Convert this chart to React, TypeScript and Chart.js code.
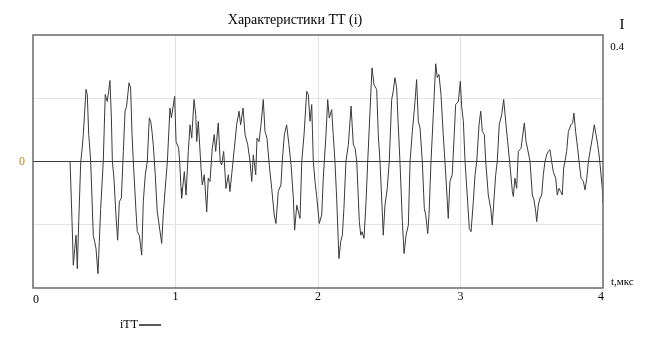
import React, { useEffect, useRef } from 'react';
import { Chart, registerables } from 'chart.js';

Chart.register(...registerables);

// time, microseconds
const timeUs: number[] = [
  0.260, 0.274, 0.283, 0.293, 0.302, 0.311, 0.321, 0.335, 0.344, 0.353, 0.372, 0.381, 0.391, 0.395, 0.405, 0.423, 0.433, 0.442, 0.456, 0.475,
  0.493, 0.507, 0.521, 0.531, 0.540, 0.550, 0.557, 0.568, 0.582, 0.594, 0.606, 0.620, 0.634, 0.646, 0.657, 0.674, 0.685, 0.695, 0.704, 0.723,
  0.732, 0.746, 0.763, 0.774, 0.788, 0.802, 0.816, 0.826, 0.835, 0.844, 0.858, 0.872, 0.882, 0.903, 0.914, 0.926, 0.943, 0.961, 0.971, 0.994,
  1.004, 1.022,
  1.029, 1.039, 1.043, 1.062, 1.074, 1.090, 1.102, 1.114, 1.130, 1.142, 1.149, 1.160, 1.179, 1.188, 1.202, 1.219, 1.230, 1.242, 1.258, 1.272,
  1.282, 1.300, 1.314, 1.324, 1.338, 1.354, 1.371, 1.382, 1.399, 1.413, 1.429, 1.446, 1.457, 1.474, 1.488, 1.507, 1.523, 1.535, 1.546, 1.563,
  1.572, 1.586, 1.600, 1.616, 1.628, 1.642, 1.658, 1.675, 1.693, 1.705, 1.721, 1.740, 1.749, 1.764, 1.780, 1.796, 1.811,
  1.827, 1.836, 1.851, 1.862, 1.874, 1.886, 1.902, 1.921, 1.932, 1.944, 1.956, 1.967, 1.979, 1.991, 2.009, 2.026, 2.037, 2.056, 2.068, 2.079,
  2.096, 2.107, 2.119, 2.131, 2.147, 2.159, 2.171, 2.182, 2.196, 2.213, 2.232, 2.248, 2.260, 2.272, 2.290, 2.300, 2.309, 2.323, 2.337, 2.349,
  2.365, 2.379, 2.393, 2.412, 2.423, 2.435, 2.449, 2.458, 2.470, 2.486, 2.500, 2.517, 2.528, 2.540, 2.552, 2.563, 2.575, 2.592, 2.604, 2.618,
  2.634, 2.646, 2.662, 2.681, 2.692, 2.704, 2.716, 2.732, 2.746, 2.756, 2.770, 2.779, 2.793, 2.809, 2.826, 2.837, 2.849, 2.863, 2.879, 2.891,
  2.905, 2.914, 2.926, 2.942, 2.956, 2.966, 2.985, 2.999, 3.008, 3.020, 3.032, 3.050, 3.062, 3.074, 3.090, 3.102, 3.114, 3.130, 3.142, 3.153,
  3.167, 3.177, 3.195, 3.212, 3.223, 3.237, 3.247, 3.258, 3.272, 3.289, 3.303, 3.317, 3.331, 3.347, 3.364, 3.371, 3.382, 3.394,
  3.406, 3.425, 3.434, 3.448, 3.460, 3.472, 3.488, 3.504, 3.516, 3.528, 3.535, 3.546, 3.558, 3.570, 3.581, 3.593, 3.605, 3.616, 3.628, 3.640,
  3.651, 3.668, 3.679, 3.691, 3.703, 3.714, 3.724, 3.733, 3.745, 3.757, 3.775, 3.787, 3.796, 3.808, 3.822, 3.832, 3.846, 3.862, 3.874, 3.886,
  3.898, 3.909, 3.925, 3.939, 3.951, 3.963, 3.975, 3.986, 3.995, 4.000,
];

// current iTT
const iTT: number[] = [
  0, -0.19, -0.328, -0.275, -0.233, -0.339, -0.19, 0, 0.037, 0.085, 0.228, 0.212, 0.085, 0.063, 0, -0.233, -0.254, -0.275, -0.355, -0.148,
  0, 0.212, 0.19, 0.222, 0.256, 0.138, 0, -0.053, -0.169, -0.249, -0.127, -0.116, 0.032, 0.159, 0.175, 0.249, 0.233, 0.085, 0, -0.159,
  -0.222, -0.233, -0.296, -0.127, -0.042, 0, 0.138, 0.127, 0.095, 0.053, -0.042, -0.159, -0.19, -0.259, -0.169, -0.095, 0, 0.169, 0.138, 0.206,
  0.063, 0.042,
  0, -0.085, -0.116, -0.032, -0.106, 0.032, 0.116, 0.074, 0.196, 0.148, 0.063, 0.127, -0.021, -0.074, -0.042, -0.159, -0.053, -0.063, 0.042, 0.085,
  0.032, 0.122, 0, -0.011, 0.032, -0.085, -0.042, -0.095, -0.021, 0.042, 0.116, 0.159, 0.116, 0.169, 0.085, 0.053, 0, -0.063, 0.021, -0.042,
  0.074, 0.063, 0.116, 0.196, 0.095, 0.074, -0.011, -0.085, -0.169, -0.196, -0.095, -0.074, 0, 0.085, 0.116, 0.053, -0.011,
  -0.116, -0.217, -0.138, -0.159, -0.18, 0, 0.085, 0.222, 0.212, 0.127, 0.18, 0, -0.063, -0.111, -0.196, -0.169, -0.053, 0.085, 0.196, 0.138,
  0.164, 0.085, 0, -0.116, -0.307, -0.254, -0.233, -0.148, 0, 0.053, 0.175, 0.053, 0.042, 0, -0.19, -0.233, -0.222, -0.243, -0.127, 0,
  0.159, 0.296, 0.243, 0.228, 0.085, 0, -0.138, -0.233, -0.138, -0.085, 0, 0.196, 0.222, 0.265, 0.233, 0.116, 0, -0.19, -0.291, -0.233,
  -0.201, 0, 0.095, 0.19, 0.259, 0.127, 0.106, 0, -0.148, -0.169, -0.228, -0.169, 0, 0.148, 0.309, 0.265, 0.275, 0.212, 0.085, 0,
  -0.106, -0.18, -0.063, -0.042, 0.085, 0.18, 0.19, 0.254, 0.175, 0.127, 0, -0.127, -0.212, -0.222, -0.127, -0.042, 0, 0.116, 0.159, 0.095,
  0.085, 0, -0.106, -0.148, -0.201, -0.106, -0.042, 0, 0.116, 0.148, 0.196, 0.127, 0.063, -0.011, -0.095, -0.111, -0.053, -0.085,
  0.032, 0.042, 0.074, 0.122, 0.063, 0.037, 0, -0.106, -0.122, -0.159, -0.19, -0.138, -0.116, -0.106, -0.042, 0, 0.021, 0.032, 0.037, 0,
  -0.032, -0.053, -0.106, -0.085, -0.095, -0.106, -0.021, 0, 0.032, 0.095, 0.116, 0.122, 0.153, 0.095, 0.042, 0, -0.053, -0.063, -0.09, -0.053,
  0, 0.032, 0.074, 0.116, 0.085, 0.053, 0.011, -0.042, -0.085, -0.132,
];

const xTicks: number[] = [0, 1, 2, 3, 4];
const xTickLabels: string[] = ['0', '1', '2', '3', '4'];
const xMin = 0;
const xMax = 4;
const yMin = -0.4;
const yMax = 0.4;
const yGridStep = 0.2;
const yMarkerValue = 0;
const yMarkerLabel = '0';
const yTopLabel = '0.4';
const chartTitle = 'Характеристики TT (i)';
const yAxisTitle = 'I';
const xAxisTitle = 't,мкс';
const legendLabel = 'iTT';

const SERIF = "'Liberation Serif', 'Times New Roman', serif";

export default function App() {
  const ref = useRef<HTMLCanvasElement>(null);

  useEffect(() => {
    document.body.style.margin = '0';
    const canvas = ref.current;
    if (!canvas) return;
    const n = Math.min(timeUs.length, iTT.length);
    const points: { x: number; y: number }[] = [];
    for (let i = 0; i < n; i++) points.push({ x: timeUs[i], y: iTT[i] });

    const overlay = {
      id: 'mathcadOverlay',
      afterDraw(chart: any) {
        const { ctx, chartArea: a, scales } = chart;
        const xs = scales.x;
        const ys = scales.y;
        ctx.save();
        // frame
        ctx.strokeStyle = '#6a6a6a';
        ctx.lineWidth = 1.5;
        ctx.strokeRect(a.left, a.top, a.right - a.left, a.bottom - a.top);

        ctx.fillStyle = '#000';
        ctx.textBaseline = 'middle';
        // title
        ctx.font = `14px ${SERIF}`;
        ctx.textAlign = 'center';
        ctx.fillText(chartTitle, 295, 20);
        // y axis title
        ctx.font = `15px ${SERIF}`;
        ctx.fillText(yAxisTitle, 622, 25);
        // top limit label
        ctx.font = `11px ${SERIF}`;
        ctx.fillText(yTopLabel, a.right + 14, ys.getPixelForValue(yMax) + 12);
        // x tick labels
        ctx.font = `12px ${SERIF}`;
        xTicks.forEach((v, i) => {
          let px = xs.getPixelForValue(v);
          let py = a.bottom + 9;
          if (i === 0) { px += 3; py += 3; }
          if (i === xTicks.length - 1) px -= 2;
          ctx.fillText(xTickLabels[i], px, py);
        });
        // marker label
        ctx.fillStyle = '#c0851c';
        ctx.fillText(yMarkerLabel, a.left - 11, ys.getPixelForValue(yMarkerValue));
        // x axis title
        ctx.fillStyle = '#000';
        ctx.font = `11px ${SERIF}`;
        ctx.textAlign = 'left';
        ctx.fillText(xAxisTitle, a.right + 8, a.bottom - 6);
        // legend
        ctx.font = `12px ${SERIF}`;
        ctx.textAlign = 'right';
        ctx.fillText(legendLabel, 138, 325);
        ctx.strokeStyle = '#222';
        ctx.lineWidth = 1.5;
        ctx.beginPath();
        ctx.moveTo(139, 325);
        ctx.lineTo(161, 325);
        ctx.stroke();
        ctx.restore();
      },
    };

    const chart = new Chart(canvas, {
      type: 'line',
      data: {
        datasets: [
          {
            label: legendLabel,
            data: points,
            borderColor: '#3a3a3a',
            borderWidth: 1,
            pointRadius: 0,
            tension: 0,
            fill: false,
          },
        ],
      },
      options: {
        animation: false,
        responsive: false,
        devicePixelRatio: 1,
        layout: { padding: { left: 33, right: 45, top: 35, bottom: 72 } },
        plugins: {
          legend: { display: false },
          title: { display: false },
          tooltip: { enabled: false },
        },
        scales: {
          x: {
            type: 'linear',
            min: xMin,
            max: xMax,
            ticks: { display: false, stepSize: 1 },
            border: { display: false },
            grid: {
              drawTicks: false,
              lineWidth: 1,
              color: (c: any) => {
                const v = c.tick ? c.tick.value : 0;
                return v <= xMin + 1e-9 || v >= xMax - 1e-9 ? 'rgba(0,0,0,0)' : '#e0e0e0';
              },
            },
          },
          y: {
            min: yMin,
            max: yMax,
            ticks: { display: false, stepSize: yGridStep },
            border: { display: false },
            grid: {
              drawTicks: false,
              lineWidth: 1,
              color: (c: any) => {
                const v = c.tick ? c.tick.value : 0;
                if (Math.abs(v - yMarkerValue) < 1e-9) return '#3c3c3c';
                if (Math.abs(v) >= yMax - 1e-9) return 'rgba(0,0,0,0)';
                return '#e4e4e4';
              },
            },
          },
        },
      },
      plugins: [overlay],
    });
    return () => chart.destroy();
  }, []);

  return (
    <div style={{ position: 'absolute', left: 0, top: 0, width: 648, height: 360, background: '#fff' }}>
      <canvas ref={ref} width={648} height={360} style={{ display: 'block', width: 648, height: 360 }} />
    </div>
  );
}
